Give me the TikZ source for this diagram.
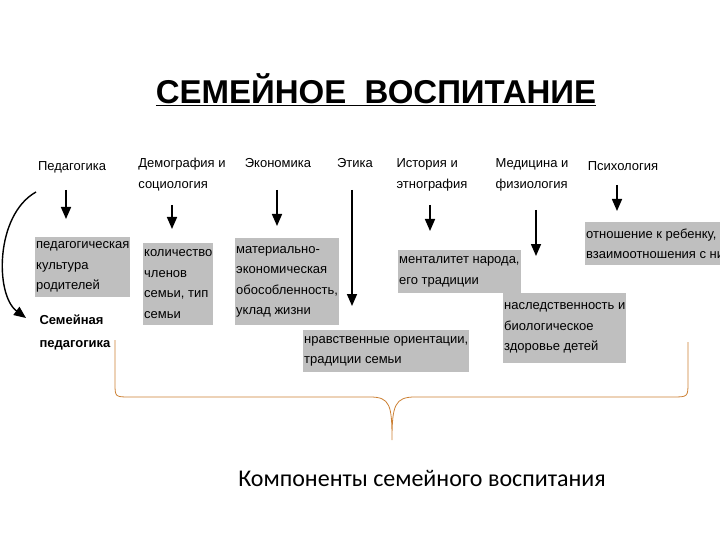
\documentclass[tikz,border=0pt]{standalone}
\usepackage{fontspec}
\setmainfont{Liberation Sans}
\newfontfamily\carlitofont{Carlito}
\usetikzlibrary{arrows.meta}
\begin{document}
\begin{tikzpicture}[x=1pt,y=-1pt,
  gbox/.style={fill=black!25,inner sep=1pt,align=left,font=\fontsize{13}{20.5}\selectfont,anchor=north west},
  head/.style={align=left,font=\fontsize{13}{21}\selectfont,anchor=north},
  arr/.style={-{Triangle[length=12pt,width=10pt]},line width=1.6pt}]
\useasboundingbox (0,0) rectangle (720,540);
\node[font=\bfseries\fontsize{33}{36}\selectfont] (title) at (376,90) {\underline{СЕМЕЙНОЕ\ \ ВОСПИТАНИЕ}};
% heads
\node[head] (h1) at (72,158) {Педагогика};
\node[head] (h2) at (182,155) {Демография и\\социология};
\node[head] (h3) at (278,155) {Экономика};
\node[head] (h4) at (355,155) {Этика};
\node[head] (h5) at (432,155) {История и\\этнография};
\node[head] (h6) at (532,155) {Медицина и\\физиология};
\node[head] (h7) at (623,158) {Психология};
% boxes
\node[gbox,minimum width=88pt,minimum height=60pt] (b1) at (35,237) {педагогическая\\культура\\родителей};
\node[gbox,minimum width=64pt,minimum height=82pt] (b2) at (143,243) {количество\\членов\\семьи, тип\\семьи};
\node[gbox,minimum width=93pt,minimum height=87pt] (b3) at (235,238) {материально-\\экономическая\\обособленность,\\уклад жизни};
\node[gbox,minimum width=152pt,minimum height=42pt] (b4) at (303,330) {нравственные ориентации,\\традиции семьи};
\node[gbox,minimum width=110pt,minimum height=43pt] (b5) at (398,250) {менталитет народа,\\его традиции};
\node[gbox,minimum width=115pt,minimum height=70pt] (b6) at (503,293) {наследственность и\\биологическое\\здоровье детей};
\node[gbox,minimum width=135pt,minimum height=43pt] (b7) at (585,222) {отношение к ребенку,\\взаимоотношения с ним};
\node[align=left,anchor=north west,font=\bfseries\fontsize{13}{23}\selectfont] (sp) at (36,311) {Семейная\\педагогика};
% arrow coordinates
\coordinate (a1s) at (66,190); \coordinate (a1e) at (66,219);
\coordinate (a2s) at (172,205); \coordinate (a2e) at (172,229);
\coordinate (a3s) at (277,190); \coordinate (a3e) at (277,226);
\coordinate (a4s) at (352,190); \coordinate (a4e) at (352,306);
\coordinate (a5s) at (430,205); \coordinate (a5e) at (430,231);
\coordinate (a6s) at (536,210); \coordinate (a6e) at (536,256);
\coordinate (a7s) at (617,185); \coordinate (a7e) at (617,211);
\foreach \i in {1,...,7} \draw[arr] (a\i s) -- (a\i e);
\coordinate (cs) at (36,192); \coordinate (ce) at (26,318);
\draw[-{Triangle[length=12pt,width=10pt]},line width=1.4pt] (cs) .. controls (-5,215) and (-5,295) .. (ce);
% brace
\coordinate (bl) at (115,340); \coordinate (br) at (688,342); \coordinate (bt) at (392,440);
\draw[color=brown!80!orange,line width=0.8pt] (bl) -- (115,383) .. controls (115,397) .. (130,397) -- (370,397) .. controls (390,397) and (392,405) .. (bt) .. controls (392,405) and (395,397) .. (415,397) -- (672,397) .. controls (688,397) .. (688,382) -- (br);
\node[font=\carlitofont\fontsize{24}{28}\selectfont] (bottom) at (422,478) {Компоненты семейного воспитания};
\end{tikzpicture}
\end{document}
